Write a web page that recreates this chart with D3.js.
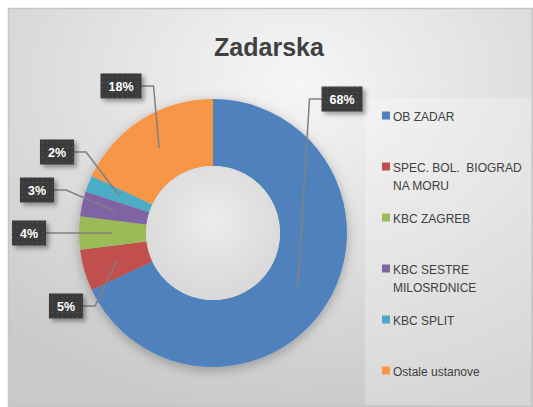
<!DOCTYPE html>
<html>
<head>
<meta charset="utf-8">
<script src="https://cdn.jsdelivr.net/npm/d3@7"></script>
<style>
  body { margin:0; background:#fff; }
  text { font-family:"Liberation Sans", Arial, sans-serif; }
</style>
</head>
<body>
<svg id="chart" width="533" height="407"></svg>
<script>
// data
const categories = ["OB ZADAR","SPEC. BOL.  BIOGRAD NA MORU","KBC ZAGREB","KBC SESTRE MILOSRDNICE","KBC SPLIT","Ostale ustanove"];
const shares = [68,5,4,3,2,18];
const colors = ["#4F81BD","#C0504D","#9BBB59","#8064A2","#4BACC6","#F79646"];
const title = "Zadarska";

// where Excel dropped each label box (centres)
const labelSpots = [[342,99],[66,306],[29,233],[37,190],[57,152],[121,86]];

const svg = d3.select("#chart");
const defs = svg.append("defs");

const bg = defs.append("radialGradient").attr("id","bg")
  .attr("cx","55%").attr("cy","18%").attr("r","85%");
bg.append("stop").attr("offset","0%").attr("stop-color","#f6f6f6");
bg.append("stop").attr("offset","100%").attr("stop-color","#c9c9c9");

const hole = defs.append("radialGradient").attr("id","hole")
  .attr("cx","50%").attr("cy","40%").attr("r","60%");
hole.append("stop").attr("offset","0%").attr("stop-color","#ececec");
hole.append("stop").attr("offset","100%").attr("stop-color","#d8d8d8");

defs.append("filter").attr("id","pieShadow").attr("x","-20%").attr("y","-20%").attr("width","140%").attr("height","140%")
  .append("feDropShadow").attr("dx",0).attr("dy",3).attr("stdDeviation",6)
  .attr("flood-color","#000").attr("flood-opacity",0.28);

defs.append("filter").attr("id","boxShadow").attr("x","-30%").attr("y","-30%").attr("width","170%").attr("height","170%")
  .append("feDropShadow").attr("dx",3).attr("dy",3).attr("stdDeviation",2)
  .attr("flood-color","#000").attr("flood-opacity",0.35);

const dots = defs.append("pattern").attr("id","dots")
  .attr("patternUnits","userSpaceOnUse").attr("width",5).attr("height",5);
dots.append("rect").attr("width",5).attr("height",5).attr("fill","#3a3a3a");
dots.append("circle").attr("cx",2.5).attr("cy",2.5).attr("r",0.8).attr("fill","#555");

// chart frame
svg.append("rect").attr("x",8.5).attr("y",8.5).attr("width",524).attr("height",398)
  .attr("fill","url(#bg)").attr("stroke","#c6c6c6").attr("stroke-width",1.5);

// legend panel
svg.append("rect").attr("x",365).attr("y",98).attr("width",166).attr("height",307)
  .attr("fill","#ffffff").attr("opacity",0.25);

svg.append("text")
  .attr("x",269).attr("y",56)
  .attr("text-anchor","middle")
  .attr("font-size",25).attr("font-weight","bold")
  .attr("fill","#404040")
  .text(title);

// donut
const cx = 213, cy = 233, rOut = 134, rIn = 67;
const pie = d3.pie().sort(null).value(d => d);
const arcs = pie(shares);
const arc = d3.arc().innerRadius(rIn).outerRadius(rOut);

const g = svg.append("g").attr("transform",`translate(${cx},${cy})`);

g.append("g").attr("filter","url(#pieShadow)")
  .selectAll("path")
  .data(arcs)
  .join("path")
  .attr("d",arc)
  .attr("fill",(d,i) => colors[i]);

g.append("circle").attr("r",rIn).attr("fill","url(#hole)");

// labels with leader lines
const labels = svg.append("g");
arcs.forEach((d,i) => {
  const [lx,ly] = labelSpots[i];
  const c = arc.centroid(d);
  const px = cx + c[0], py = cy + c[1];

  const t = labels.append("text")
    .attr("x",lx).attr("y",ly + 4.5)
    .attr("text-anchor","middle")
    .attr("font-size",12.5).attr("font-weight","bold")
    .attr("fill","#fff")
    .text(Math.round(shares[i]) + "%");
  const w = t.node().getComputedTextLength() + 16, h = 25;

  const side = px > lx ? 1 : -1;
  const ex = lx + side * w / 2;
  labels.insert("path","text")
    .attr("d",`M${ex},${ly}h${side * 12}L${px},${py}`)
    .attr("fill","none").attr("stroke","#808080").attr("stroke-width",1.5);

  labels.insert("rect","text")
    .attr("x",lx - w / 2).attr("y",ly - h / 2)
    .attr("width",w).attr("height",h)
    .attr("fill","url(#dots)")
    .attr("filter","url(#boxShadow)");
});

// legend
const legend = svg.append("g");
const rowY = d3.scaleLinear().domain([0,1]).range([116,167]);
categories.forEach((name,i) => {
  const y = rowY(i);
  legend.append("rect").attr("x",382).attr("y",y - 4.5).attr("width",8).attr("height",8)
    .attr("fill",colors[i]);
  const t = legend.append("text")
    .attr("x",393).attr("y",y + 4.5)
    .attr("font-size",12).attr("fill","#404040")
    .style("white-space","pre");
  // wrap like Excel does in the legend box
  const words = name.split(" ");
  let line = [], lines = [];
  const probe = t.append("tspan");
  words.forEach(wd => {
    const test = line.concat(wd).join(" ");
    probe.text(test);
    if (probe.node().getComputedTextLength() > 140 && line.length) {
      lines.push(line.join(" "));
      line = [wd];
    } else line.push(wd);
  });
  lines.push(line.join(" "));
  probe.remove();
  lines.forEach((ln,k) => {
    t.append("tspan").attr("x",393).attr("dy",k ? 18 : 0).text(ln);
  });
});
</script>
</body>
</html>
